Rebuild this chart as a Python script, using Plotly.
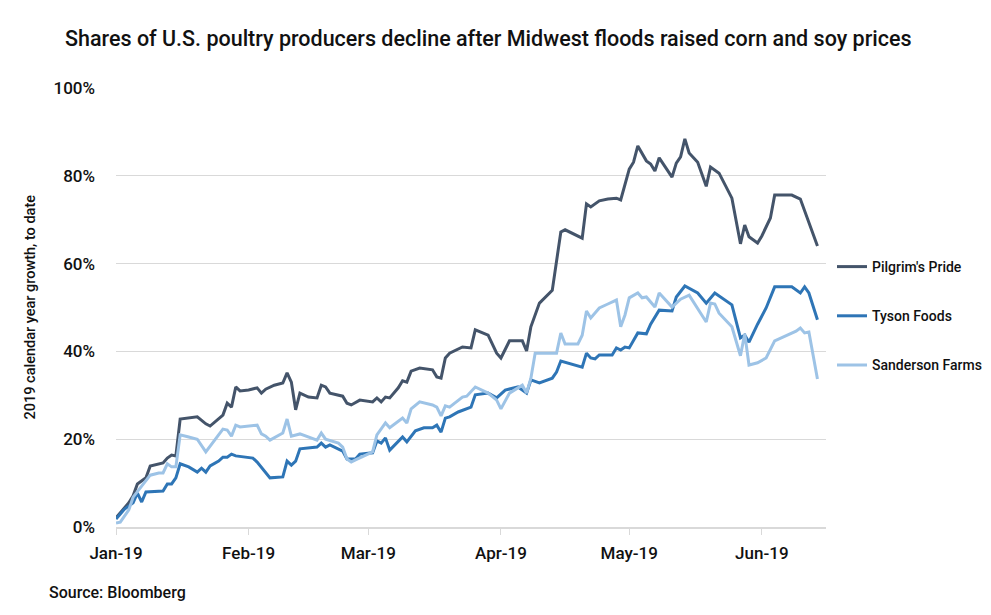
import plotly.graph_objects as go

# ---------------- data ----------------
pilgrims_dates = [
    "2019-01-01", "2019-01-04", "2019-01-05", "2019-01-06", "2019-01-08", "2019-01-09",
    "2019-01-12", "2019-01-13", "2019-01-14", "2019-01-15", "2019-01-16", "2019-01-20",
    "2019-01-22", "2019-01-23", "2019-01-26", "2019-01-27", "2019-01-28", "2019-01-29",
    "2019-01-30", "2019-02-01", "2019-02-03", "2019-02-04", "2019-02-05", "2019-02-07",
    "2019-02-09", "2019-02-10", "2019-02-11", "2019-02-12", "2019-02-13", "2019-02-15",
    "2019-02-17", "2019-02-18", "2019-02-19", "2019-02-20", "2019-02-23", "2019-02-24",
    "2019-02-25", "2019-02-27", "2019-03-02", "2019-03-03", "2019-03-04", "2019-03-05",
    "2019-03-06", "2019-03-08", "2019-03-09", "2019-03-10", "2019-03-11", "2019-03-13",
    "2019-03-16", "2019-03-17", "2019-03-18", "2019-03-19", "2019-03-20", "2019-03-23",
    "2019-03-25", "2019-03-26", "2019-03-29", "2019-03-31", "2019-04-01", "2019-04-03",
    "2019-04-06", "2019-04-07", "2019-04-08", "2019-04-10", "2019-04-13", "2019-04-14",
    "2019-04-15", "2019-04-16", "2019-04-20", "2019-04-21", "2019-04-22", "2019-04-24",
    "2019-04-26", "2019-04-28", "2019-04-29", "2019-05-01", "2019-05-02", "2019-05-03",
    "2019-05-05", "2019-05-06", "2019-05-07", "2019-05-08", "2019-05-11", "2019-05-12",
    "2019-05-13", "2019-05-14", "2019-05-15", "2019-05-17", "2019-05-19", "2019-05-20",
    "2019-05-21", "2019-05-22", "2019-05-25", "2019-05-27", "2019-05-28", "2019-05-29",
    "2019-05-31", "2019-06-01", "2019-06-03", "2019-06-04", "2019-06-08", "2019-06-10",
    "2019-06-14",
]
pilgrims_values = [
    2.1, 5.5, 7.1, 9.8, 11.2, 13.9,
    14.6, 15.7, 16.4, 16.2, 24.6, 25.1,
    23.5, 23.0, 25.5, 28.2, 27.3, 31.9,
    31.0, 31.2, 31.7, 30.5, 31.4, 32.3,
    32.8, 35.1, 33.0, 26.7, 30.5, 29.6,
    29.4, 32.3, 31.9, 30.5, 29.8, 28.2,
    27.8, 28.9, 28.5, 29.4, 28.5, 29.6,
    29.4, 31.7, 33.3, 33.0, 35.5, 36.2,
    35.8, 34.2, 33.9, 38.5, 39.6, 41.0,
    40.8, 44.9, 43.7, 39.6, 38.5, 42.4,
    42.4, 40.1, 45.6, 51.0, 53.9, 60.1,
    67.2, 67.7, 65.8, 73.6, 72.9, 74.3,
    74.7, 74.9, 74.5, 81.5, 83.1, 86.8,
    83.4, 82.7, 81.1, 84.1, 79.7, 82.9,
    84.3, 88.4, 85.2, 83.1, 77.6, 82.0,
    81.3, 80.6, 74.9, 64.5, 68.8, 66.1,
    64.7, 66.3, 70.4, 75.6, 75.6, 74.7,
    64.0,
]

tyson_dates = [
    "2019-01-01", "2019-01-03", "2019-01-05", "2019-01-06", "2019-01-07", "2019-01-08",
    "2019-01-12", "2019-01-13", "2019-01-14", "2019-01-15", "2019-01-16", "2019-01-18",
    "2019-01-20", "2019-01-21", "2019-01-22", "2019-01-23", "2019-01-25", "2019-01-26",
    "2019-01-27", "2019-01-28", "2019-01-29", "2019-02-02", "2019-02-03", "2019-02-06",
    "2019-02-09", "2019-02-10", "2019-02-11", "2019-02-12", "2019-02-13", "2019-02-16",
    "2019-02-17", "2019-02-18", "2019-02-19", "2019-02-20", "2019-02-23", "2019-02-24",
    "2019-02-26", "2019-02-27", "2019-03-02", "2019-03-03", "2019-03-04", "2019-03-05",
    "2019-03-06", "2019-03-09", "2019-03-10", "2019-03-12", "2019-03-14", "2019-03-16",
    "2019-03-17", "2019-03-18", "2019-03-19", "2019-03-20", "2019-03-22", "2019-03-25",
    "2019-03-26", "2019-03-29", "2019-03-31", "2019-04-02", "2019-04-05", "2019-04-07",
    "2019-04-08", "2019-04-10", "2019-04-13", "2019-04-14", "2019-04-15", "2019-04-20",
    "2019-04-21", "2019-04-22", "2019-04-23", "2019-04-24", "2019-04-27", "2019-04-28",
    "2019-04-29", "2019-04-30", "2019-05-01", "2019-05-03", "2019-05-05", "2019-05-06",
    "2019-05-08", "2019-05-11", "2019-05-12", "2019-05-14", "2019-05-15", "2019-05-17",
    "2019-05-19", "2019-05-21", "2019-05-25", "2019-05-27", "2019-05-28", "2019-05-29",
    "2019-05-31", "2019-06-02", "2019-06-04", "2019-06-08", "2019-06-10", "2019-06-11",
    "2019-06-12", "2019-06-14",
]
tyson_values = [
    1.8, 4.1, 5.5, 7.7, 5.7, 8.0,
    8.2, 9.8, 9.8, 11.2, 14.4, 13.7,
    12.5, 13.4, 12.5, 13.9, 15.0, 15.9,
    15.9, 16.6, 16.2, 15.7, 14.8, 11.2,
    11.4, 15.0, 14.1, 15.0, 17.8, 18.0,
    18.2, 19.1, 18.2, 18.7, 17.3, 15.5,
    15.5, 16.6, 16.9, 19.6, 19.1, 20.3,
    17.5, 20.5, 19.4, 21.9, 22.6, 22.6,
    23.2, 21.6, 24.8, 25.1, 26.2, 27.3,
    30.1, 30.5, 29.4, 31.2, 31.9, 30.5,
    33.5, 32.8, 33.9, 35.3, 37.8, 36.4,
    39.6, 38.5, 38.3, 39.2, 39.2, 40.8,
    40.3, 41.0, 40.8, 44.2, 44.0, 46.2,
    49.4, 49.2, 52.4, 54.9, 54.4, 53.3,
    51.0, 53.3, 50.6, 43.1, 43.7, 42.1,
    46.2, 49.9, 54.7, 54.7, 53.3, 54.7,
    53.3, 47.2,
]

sanderson_dates = [
    "2019-01-01", "2019-01-02", "2019-01-04", "2019-01-05", "2019-01-07", "2019-01-09",
    "2019-01-11", "2019-01-12", "2019-01-13", "2019-01-14", "2019-01-15", "2019-01-16",
    "2019-01-18", "2019-01-20", "2019-01-22", "2019-01-24", "2019-01-26", "2019-01-27",
    "2019-01-28", "2019-01-29", "2019-01-30", "2019-02-03", "2019-02-04", "2019-02-05",
    "2019-02-06", "2019-02-09", "2019-02-10", "2019-02-11", "2019-02-13", "2019-02-17",
    "2019-02-18", "2019-02-19", "2019-02-22", "2019-02-23", "2019-02-24", "2019-02-25",
    "2019-02-26", "2019-03-02", "2019-03-03", "2019-03-05", "2019-03-06", "2019-03-09",
    "2019-03-10", "2019-03-11", "2019-03-13", "2019-03-16", "2019-03-17", "2019-03-18",
    "2019-03-19", "2019-03-20", "2019-03-23", "2019-03-24", "2019-03-26", "2019-03-29",
    "2019-03-31", "2019-04-01", "2019-04-03", "2019-04-06", "2019-04-07", "2019-04-08",
    "2019-04-09", "2019-04-14", "2019-04-15", "2019-04-16", "2019-04-19", "2019-04-20",
    "2019-04-21", "2019-04-22", "2019-04-24", "2019-04-26", "2019-04-28", "2019-04-29",
    "2019-04-30", "2019-05-01", "2019-05-03", "2019-05-04", "2019-05-05", "2019-05-07",
    "2019-05-08", "2019-05-11", "2019-05-13", "2019-05-15", "2019-05-17", "2019-05-19",
    "2019-05-20", "2019-05-21", "2019-05-22", "2019-05-25", "2019-05-27", "2019-05-28",
    "2019-05-29", "2019-05-31", "2019-06-02", "2019-06-04", "2019-06-09", "2019-06-10",
    "2019-06-11", "2019-06-12", "2019-06-14",
]
sanderson_values = [
    0.9, 1.1, 3.9, 6.8, 9.3, 11.8,
    12.3, 12.3, 14.4, 13.7, 13.7, 21.0,
    20.5, 20.0, 17.1, 19.8, 22.3, 22.1,
    20.7, 23.2, 22.8, 23.2, 21.2, 20.7,
    19.8, 21.4, 24.6, 20.7, 21.2, 19.8,
    21.4, 20.0, 19.1, 18.2, 15.5, 14.8,
    15.3, 17.1, 21.0, 23.7, 22.6, 24.8,
    23.7, 26.9, 28.5, 27.8, 27.3, 25.3,
    27.6, 27.3, 29.6, 29.8, 31.9, 30.5,
    28.9, 26.9, 30.5, 32.3, 30.5, 33.9,
    39.6, 39.6, 44.2, 41.7, 41.7, 43.7,
    49.2, 47.6, 49.9, 50.8, 51.7, 45.6,
    48.3, 52.2, 53.3, 52.2, 52.4, 50.1,
    53.3, 50.1, 51.9, 52.8, 49.9, 46.7,
    51.0, 50.8, 48.7, 45.6, 39.0, 44.0,
    36.9, 37.4, 38.5, 42.4, 44.6, 45.3,
    44.2, 44.4, 33.7,
]

assert len(pilgrims_dates) == len(pilgrims_values)
assert len(tyson_dates) == len(tyson_values)
assert len(sanderson_dates) == len(sanderson_values)

month_ticks = ["2019-01-01", "2019-02-01", "2019-03-01", "2019-04-01", "2019-05-01", "2019-06-01"]
month_labels = ["Jan-19", "Feb-19", "Mar-19", "Apr-19", "May-19", "Jun-19"]
y_ticks = [0, 20, 40, 60, 80, 100]
y_labels = ["0%", "20%", "40%", "60%", "80%", "100%"]

series = [
    ("Pilgrim's Pride", pilgrims_dates, pilgrims_values, "#44546a"),
    ("Tyson Foods", tyson_dates, tyson_values, "#2e75b6"),
    ("Sanderson Farms", sanderson_dates, sanderson_values, "#9dc3e6"),
]

FONT = "Roboto"
TXT = "#111111"

# the page body adds an 8px offset, so the figure is 983x607 placed at (8, 8)
W, H = 983, 607
L, R, T, B = 108, 165, 80, 88
PW, PH = W - L - R, H - T - B

fig = go.Figure()
for i, (name, xs, ys, col) in enumerate(series):
    fig.add_trace(go.Scatter(
        x=xs, y=ys, name=name, mode="lines",
        line=dict(color=col, width=3),
        legendgroup=f"g{i}",
    ))

fig.update_layout(
    width=W, height=H,
    paper_bgcolor="white", plot_bgcolor="white",
    margin=dict(l=L, r=R, t=T, b=B, autoexpand=False),
    font=dict(family=FONT, color=TXT),
    title=dict(
        text="Shares of U.S. poultry producers decline after Midwest floods raised corn and soy prices",
        x=57 / W, xanchor="left", xref="container",
        y=1 - 30 / H, yanchor="middle", yref="container",
        font=dict(size=21.5, family=FONT, color=TXT, weight=500),
    ),
    showlegend=True,
    legend=dict(
        x=(824 - L) / PW, xanchor="left", y=(H - B - 243) / PH, yanchor="top",
        font=dict(size=14, family=FONT, color=TXT, weight=500),
        tracegroupgap=28, itemwidth=30,
        bgcolor="rgba(0,0,0,0)",
    ),
    xaxis=dict(
        type="date",
        range=["2019-01-01", "2019-06-16"],
        tickvals=month_ticks, ticktext=month_labels,
        ticks="outside", ticklen=6, tickcolor="#d9d9d9", tickwidth=1,
        showline=True, linecolor="#d9d9d9", linewidth=2,
        showgrid=False, zeroline=False, automargin=False,
        ticklabelstandoff=4,
        tickfont=dict(size=17, family=FONT, color=TXT, weight=500),
    ),
    yaxis=dict(
        range=[0, 100],
        tickvals=y_ticks, ticktext=y_labels,
        showgrid=True, gridcolor="#d9d9d9", gridwidth=1,
        zeroline=False, showline=False, ticks="", automargin=False,
        ticklabelstandoff=20,
        tickfont=dict(size=17, family=FONT, color=TXT, weight=500),
    ),
)

fig.add_annotation(
    text="2019 calendar year growth, to date",
    xref="paper", yref="paper", x=(22 - L) / PW, y=0.5,
    textangle=-90, showarrow=False, xanchor="center", yanchor="middle",
    font=dict(size=14.5, family=FONT, color=TXT, weight=500),
)
fig.add_annotation(
    text="Source: Bloomberg",
    xref="paper", yref="paper", x=(39 - L) / PW, y=-(584 - (H - B)) / PH,
    showarrow=False, xanchor="left", yanchor="middle",
    font=dict(size=16, family=FONT, color=TXT, weight=500),
)

fig.write_html("out.html")
